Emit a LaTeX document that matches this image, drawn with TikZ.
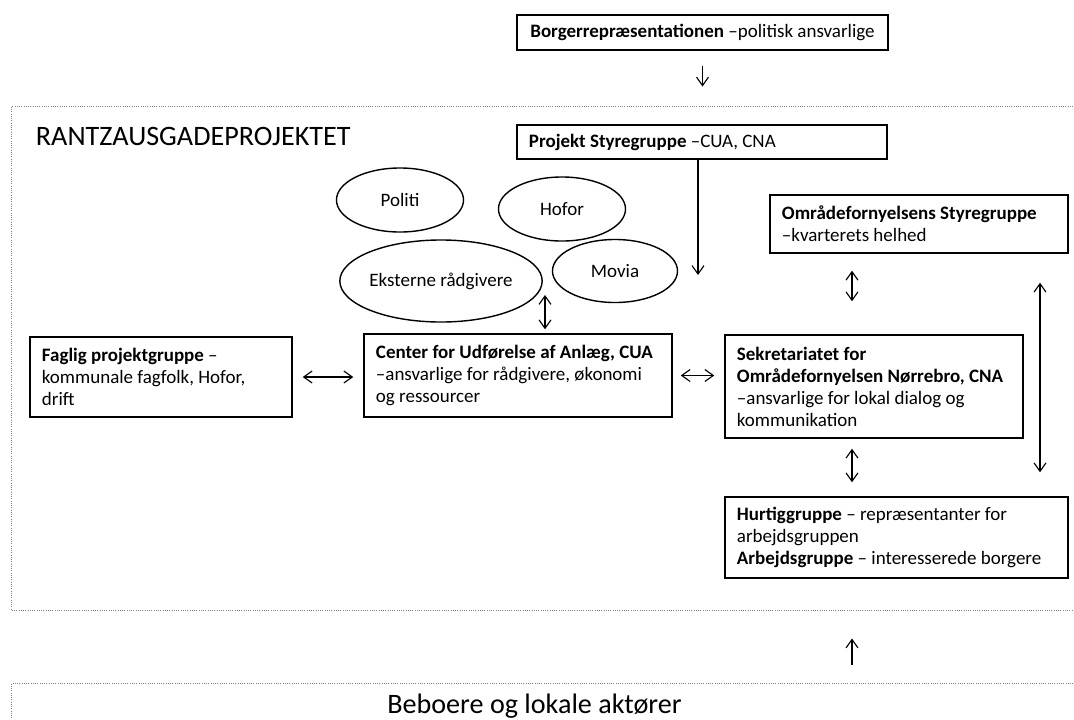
\documentclass[tikz,border=0pt]{standalone}
\usepackage{fontspec}
\setmainfont{Carlito}
\usetikzlibrary{shapes.geometric,arrows.meta}
\tikzstyle{box}=[draw,line width=1pt,align=flush left,inner xsep=0.3cm,font=\fontsize{13.5}{15.6}\selectfont]
\tikzstyle{actor}=[draw,ellipse,line width=1pt,inner sep=0pt,font=\fontsize{13.5}{15.6}\selectfont]
\tikzstyle{frame}=[draw=gray,densely dotted,line width=0.6pt,inner sep=0pt]
\tikzstyle{link}=[line width=0.8pt]

\begin{document}
\begin{tikzpicture}[x=0.025cm,y=-0.025cm,>={Straight Barb[length=6pt,width=8.5pt]}]
\useasboundingbox (0,0) rectangle (1074,719);
% frames
\node[frame,minimum width=26.95cm,minimum height=12.6cm] at (551,358) (proj) {};
\node[frame,minimum width=26.95cm,minimum height=1.925cm] at (551,721.5) (folk) {};
\node[anchor=base west,font=\fontsize{20}{24}\selectfont] at (31,145) (title) {RANTZAUSGADEPROJEKTET};
\node[anchor=base,font=\fontsize{20}{24}\selectfont] at (534.5,713) (beboere) {Beboere og lokale aktører};
% boxes
\node[box,align=center,minimum width=9.275cm,minimum height=0.875cm] at (702.5,32.5) (borger) {\textbf{Borgerrepræsentationen} –politisk ansvarlige};
\node[box,text width=8.65cm,minimum height=0.85cm] at (702,142) (styre) {\textbf{Projekt Styregruppe} –CUA, CNA};
\node[box,text width=6.85cm,minimum height=1.45cm] at (919,224) (omr) {\textbf{Områdefornyelsens Styregruppe}\\–kvarterets helhed};
\node[box,text width=5.95cm,minimum height=2cm] at (161,377) (faglig) {\textbf{Faglig projektgruppe} –\\kommunale fagfolk, Hofor,\\drift};
\node[box,text width=7.1cm,minimum height=2.075cm] at (518,375.5) (cua) {\textbf{Center for Udførelse af Anlæg, CUA}\\–ansvarlige for rådgivere, økonomi\\og ressourcer};
\node[box,text width=6.85cm,minimum height=2.575cm] at (874,386.5) (sekr) {\textbf{Sekretariatet for}\\\textbf{Områdefornyelsen Nørrebro, CNA}\\–ansvarlige for lokal dialog og\\kommunikation};
\node[box,text width=7.975cm,minimum height=2.025cm] at (896.5,537.5) (hurtig) {\textbf{Hurtiggruppe} – repræsentanter for\\arbejdsgruppen\\\textbf{Arbejdsgruppe} – interesserede borgere};
% ellipses
\node[actor,minimum width=3.175cm,minimum height=1.6cm] at (400,200) (politi) {Politi};
\node[actor,minimum width=3.175cm,minimum height=1.6cm] at (562,209) (hofor) {Hofor};
\node[actor,minimum width=4.75cm,minimum height=2.05cm] at (441,281) (eksterne) {Eksterne rådgivere};
\node[actor,minimum width=3.125cm,minimum height=1.575cm] at (615,271) (movia) {Movia};
% arrows
\coordinate (styreend) at (698,275);
\coordinate (ekstend) at (545,295);
\coordinate (mid) at (852,0);
\coordinate (rt) at (1040,0);
\draw[->,link,shorten <=0.375cm,shorten >=0.475cm] (borger.south) -- (borger.south |- proj.north);
\draw[->,link] (styre.south -| styreend) -- (styreend);
\draw[<->,link,shorten >=0.1cm] (ekstend) -- (ekstend |- cua.north);
\draw[<->,link,shorten <=0.25cm,shorten >=0.25cm] (faglig.east) -- (faglig.east -| cua.west);
\draw[<->,link,shorten <=0.2cm,shorten >=0.25cm] (cua.east) -- (cua.east -| sekr.west);
\draw[<->,link,shorten <=0.425cm,shorten >=0.825cm] (omr.south -| mid) -- (sekr.north -| mid);
\draw[<->,link,shorten <=0.25cm,shorten >=0.35cm] (sekr.south -| mid) -- (hurtig.north -| mid);
\draw[<->,link,shorten <=0.725cm,shorten >=0.6cm] (omr.south -| rt) -- (hurtig.north -| rt);
\draw[->,link,shorten <=0.45cm,shorten >=0.7cm] (folk.north -| mid) -- (proj.south -| mid);
\end{tikzpicture}
\end{document}
